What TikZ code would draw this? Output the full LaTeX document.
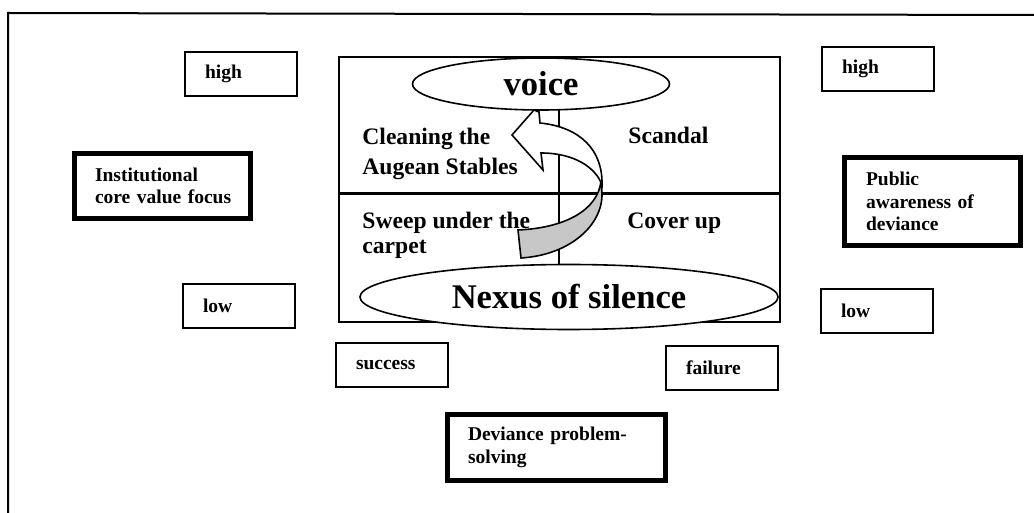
\documentclass[tikz,border=0pt]{standalone}
\usepackage{fontspec}
\setmainfont{Liberation Serif}
\usetikzlibrary{shapes,positioning}

\tikzset{
  lbl/.style={font=\fontsize{9.75}{11.3}\selectfont\bfseries},
  smallbox/.style={lbl, rectangle, draw, line width=0.9pt, align=left, text width=36pt, inner xsep=10pt, inner ysep=0pt, minimum height=22pt},
  keybox/.style={lbl, rectangle, draw, line width=2.4pt, align=left, inner ysep=0pt,
    execute at begin node={\hyphenpenalty=10000\relax}},
  quad/.style={font=\fontsize{11.8}{15}\selectfont\bfseries, align=left, inner sep=0pt, anchor=north west},
  oval/.style={ellipse, draw, fill=white, line width=0.8pt, inner sep=0pt, font=\fontsize{17.3}{20}\selectfont\bfseries},
}

\begin{document}
\begin{tikzpicture}[x=0.5pt, y=-0.5pt]
    \useasboundingbox (0,0) rectangle (1034,513);
    % Frame
    \draw[line width=1pt] (8,513) -- (8,13) -- (1034,15);

    % Matrix
    \draw[line width=1pt] (339,57) rectangle (780,322);
    \draw[line width=1.5pt] (339,194) -- (780,194);
    \draw[line width=0.8pt] (559,57) -- (559,322);

    % Turning arrow
    \draw[line width=0.8pt, fill=black!22] (601,181) .. controls (598,210) and (565,228) .. (518,230)
        -- (521,258) .. controls (570,255) and (603,225) .. (602,193) -- cycle;
    \draw[line width=0.8pt, fill=white] (512,135) -- (534,110) -- (539,112) -- (540,123)
        .. controls (580,127) and (603,150) .. (602,185)
        .. controls (596,168) and (575,153) .. (541,153) -- (543,170) -- cycle;

    % Quadrant labels
    \node[quad] (clean) at (362,128) {Cleaning the\\Augean Stables};
    \node[quad] (scandal) at (628,127) {Scandal};
    \node[quad, font=\fontsize{11.8}{12.5}\selectfont\bfseries] (sweep) at (362,212) {Sweep under the\\carpet};
    \node[quad] (cover) at (627,212) {Cover up};

    % Ellipses
    \node[oval, minimum width=128.5pt, minimum height=26pt] (voice) at (541,84) {voice};
    \node[oval, minimum width=209pt, minimum height=32.5pt] (nexus) at (569,297) {Nexus of silence};

    % Scale boxes
    \foreach \n/\x/\y/\t in {hiL/241/74/high, loL/239/306/low, hiR/878/69/high, loR/877/311/low, succ/392/365/success, fail/722/368/failure} {
        \node[smallbox] (\n) at (\x,\y) {\t};
    }

    % Dimensions
    \node[keybox, text width=67.5pt, inner xsep=10.25pt, minimum height=32.5pt] (inst) at (162.5,186) {Institutional\\core~value~focus};
    \node[keybox, text width=66.5pt, inner xsep=10.75pt, minimum height=44pt] (pub) at (932.5,201.5) {Public\\awareness~of\\deviance};
    \node[keybox, text width=88.5pt, inner xsep=10.25pt, minimum height=33pt] (dev) at (556.5,447.5) {Deviance~problem-\\solving};
\end{tikzpicture}
\end{document}
